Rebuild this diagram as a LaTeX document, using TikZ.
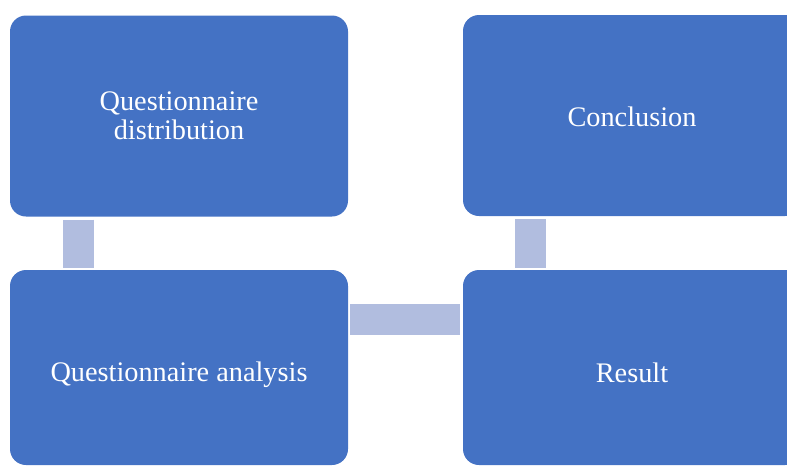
\documentclass[tikz,border=0pt]{standalone}
\usepackage{fontspec}
\setmainfont{Liberation Serif}
\definecolor{boxblue}{HTML}{4472C4}
\definecolor{linkblue}{HTML}{B1BDDF}
\newcommand{\sinktext}[2]{\raisebox{-#1pt}[\height][\depth]{#2}}

\begin{document}
\begin{tikzpicture}[x=1pt,y=-1pt,
    stage/.style={fill=boxblue,rounded corners=16pt,text=white,align=center,
        minimum width=338pt,font=\fontsize{28.3}{29}\selectfont,inner sep=0pt},
    link/.style={linkblue,line width=31pt}]
    \useasboundingbox (0,0) rectangle (787,466);
    \node[stage,minimum height=201pt] (dist) at (179,116) {Questionnaire\\distribution};
    \node[stage,minimum height=201pt] (concl) at (632,115.5) {\sinktext{1}{Conclusion}};
    \node[stage,minimum height=195pt] (anal) at (179,367.5) {\sinktext{7}{Questionnaire analysis}};
    \node[stage,minimum height=195pt] (res) at (632,367.5) {\sinktext{5}{Result}};
    % links between the stages
    \draw[link] ([xshift=68.5pt,yshift=-3pt]dist.south west) -- ([xshift=68.5pt,yshift=2pt]anal.north west);
    \draw[link] ([xshift=67.5pt,yshift=-3pt]concl.south west) -- ([xshift=67.5pt,yshift=2pt]res.north west);
    \draw[link] ([xshift=2pt,yshift=-49.5pt]anal.north east) -- ([xshift=-3pt,yshift=-49.5pt]res.north west);
\end{tikzpicture}
\end{document}
